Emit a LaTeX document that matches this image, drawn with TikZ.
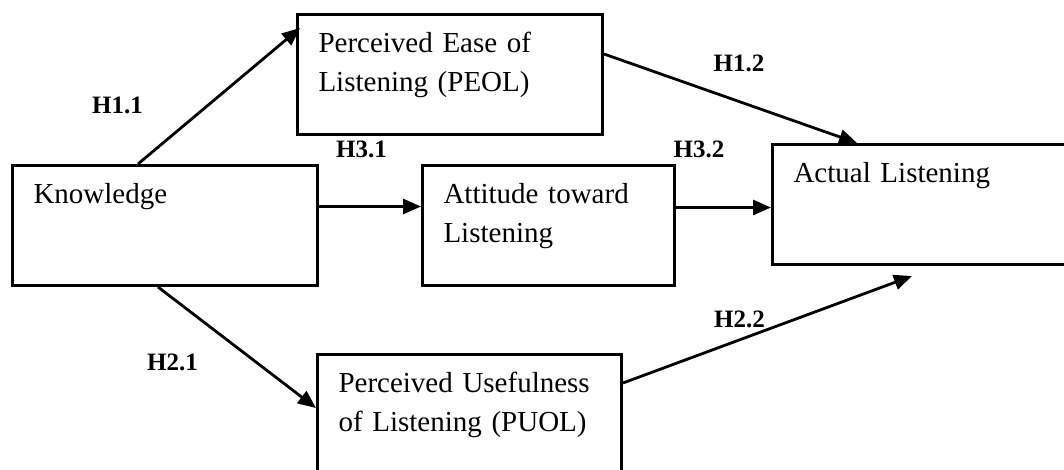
\documentclass[tikz,border=0pt]{standalone}
\usepackage{fontspec}
\setmainfont{Liberation Serif}
\usetikzlibrary{arrows.meta, positioning}

\tikzset{
  block/.style={draw, line width=3pt, anchor=north west, align=left,
    inner xsep=21pt, inner ysep=0pt, text height=38pt, text depth=82pt,
    font=\fontsize{29}{39}\selectfont},
  hyp/.style={anchor=base, inner sep=0pt, font=\fontsize{25}{30}\selectfont\bfseries},
  link/.style={-{Triangle[length=18pt,width=15pt]}, line width=2.8pt},
}

\begin{document}
\begin{tikzpicture}[x=1pt,y=-1pt]
\clip (0,0) rectangle (1064,469);
\node[block, text width=263pt] (know) at (11,164) {Knowledge};
\node[block, text width=263pt] (peol) at (296,13) {Perceived Ease of\\Listening (PEOL)};
\node[block, text width=210pt] (att) at (421,164) {Attitude toward\\Listening};
\node[block, text width=258pt] (act) at (771,143) {Actual Listening};
\node[block, text width=262pt] (puol) at (316,353) {Perceived Usefulness\\of Listening (PUOL)};

% hypotheses
\node[hyp] (h11) at (117.5,113) {H1.1};
\node[hyp] (h12) at (739,71) {H1.2};
\node[hyp] (h31) at (361.5,157) {H3.1};
\node[hyp] (h32) at (699,157) {H3.2};
\node[hyp] (h21) at (172.5,370) {H2.1};
\node[hyp] (h22) at (739.5,327) {H2.2};

\draw[link] ([xshift=127pt]know.north west) -- ([xshift=4pt,yshift=-15pt]peol.north west);
\draw[link] ([yshift=-41pt]peol.north east) -- ([xshift=86pt]act.north west);
\draw[link] ([yshift=19pt]know.east) -- ([yshift=19pt]att.west);
\draw[link] ([yshift=18pt]att.east) -- ([yshift=-3pt]act.west);
\draw[link] ([xshift=147pt]know.south west) -- ([yshift=-55pt]puol.north west);
\draw[link] ([yshift=-30pt]puol.north east) -- ([xshift=141pt,yshift=-10pt]act.south west);
\end{tikzpicture}
\end{document}
